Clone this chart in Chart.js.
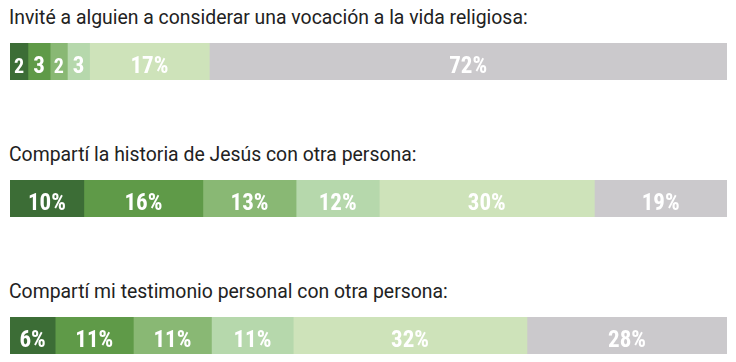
<!DOCTYPE html>
<html><head><meta charset="utf-8">
<script src="https://cdn.jsdelivr.net/npm/chart.js@4/dist/chart.umd.min.js"></script>
<style>
html,body{margin:0;padding:0;background:#fff;width:736px;height:362px;overflow:hidden;}
.t{position:absolute;left:9px;font-family:Roboto,"Liberation Sans",sans-serif;font-size:19.4px;color:#222;white-space:nowrap;line-height:20px;}
.c{position:absolute;left:10px;width:717px;height:37px;}
</style></head><body>
<div class="t" style="top:8px">Invité a alguien a considerar una vocación a la vida religiosa:</div>
<div class="c" style="top:43px"><canvas id="c0"></canvas></div>
<div class="t" style="top:145px">Compartí la historia de Jesús con otra persona:</div>
<div class="c" style="top:180px"><canvas id="c1"></canvas></div>
<div class="t" style="top:282px">Compartí mi testimonio personal con otra persona:</div>
<div class="c" style="top:317px"><canvas id="c2"></canvas></div>
<script>
// Data (segment shares, %), and the printed labels
const questions = [
  "Invité a alguien a considerar una vocación a la vida religiosa:",
  "Compartí la historia de Jesús con otra persona:",
  "Compartí mi testimonio personal con otra persona:"
];
const segments = ["s1","s2","s3","s4","s5","s6"];
const shares0 = [2.5, 3.1, 2.4, 3.1, 16.7, 72.2];
const shares1 = [10.3, 16.6, 13.0, 11.6, 30.0, 18.5];
const shares2 = [6.3, 10.9, 10.9, 11.4, 32.6, 27.9];
const labels0 = ["2","3","2","3","17%","72%"];
const labels1 = ["10%","16%","13%","12%","30%","19%"];
const labels2 = ["6%","11%","11%","11%","32%","28%"];
const colors = ["#3c6d36","#5f9a48","#89b874","#b6d8ac","#cee3ba","#cbc9cc"];

const labelPlugin = {
  id: 'segLabels',
  afterDatasetsDraw(chart) {
    const ctx = chart.ctx;
    const texts = chart.options.plugins.segLabels.texts;
    ctx.save();
    ctx.fillStyle = '#fff';
    ctx.textAlign = 'center';
    ctx.textBaseline = 'alphabetic';
    chart.data.datasets.forEach((ds, i) => {
      const el = chart.getDatasetMeta(i).data[0];
      const w = Math.abs(el.x - el.base);
      const size = w < 20 ? 20 : 23;
      ctx.font = 'bold ' + size + 'px "Liberation Sans Narrow", "Roboto Condensed", Roboto, sans-serif';
      ctx.fillText(texts[i], (el.x + el.base) / 2, el.y + 11.5);
    });
    ctx.restore();
  }
};

function makeChart(id, shares, texts) {
  const total = shares.reduce((a, b) => a + b, 0);
  new Chart(document.getElementById(id), {
    type: 'bar',
    data: {
      labels: ['q'],
      datasets: segments.map((s, i) => ({
        label: s, data: [shares[i]], backgroundColor: colors[i],
        borderWidth: 0, barPercentage: 1, categoryPercentage: 1
      }))
    },
    options: {
      indexAxis: 'y', responsive: true, maintainAspectRatio: false, animation: false,
      layout: { padding: 0 },
      scales: {
        x: { stacked: true, display: false, min: 0, max: total },
        y: { stacked: true, display: false }
      },
      plugins: { legend: { display: false }, tooltip: { enabled: false }, segLabels: { texts } }
    },
    plugins: [labelPlugin]
  });
}
makeChart('c0', shares0, labels0);
makeChart('c1', shares1, labels1);
makeChart('c2', shares2, labels2);
</script>
</body></html>
